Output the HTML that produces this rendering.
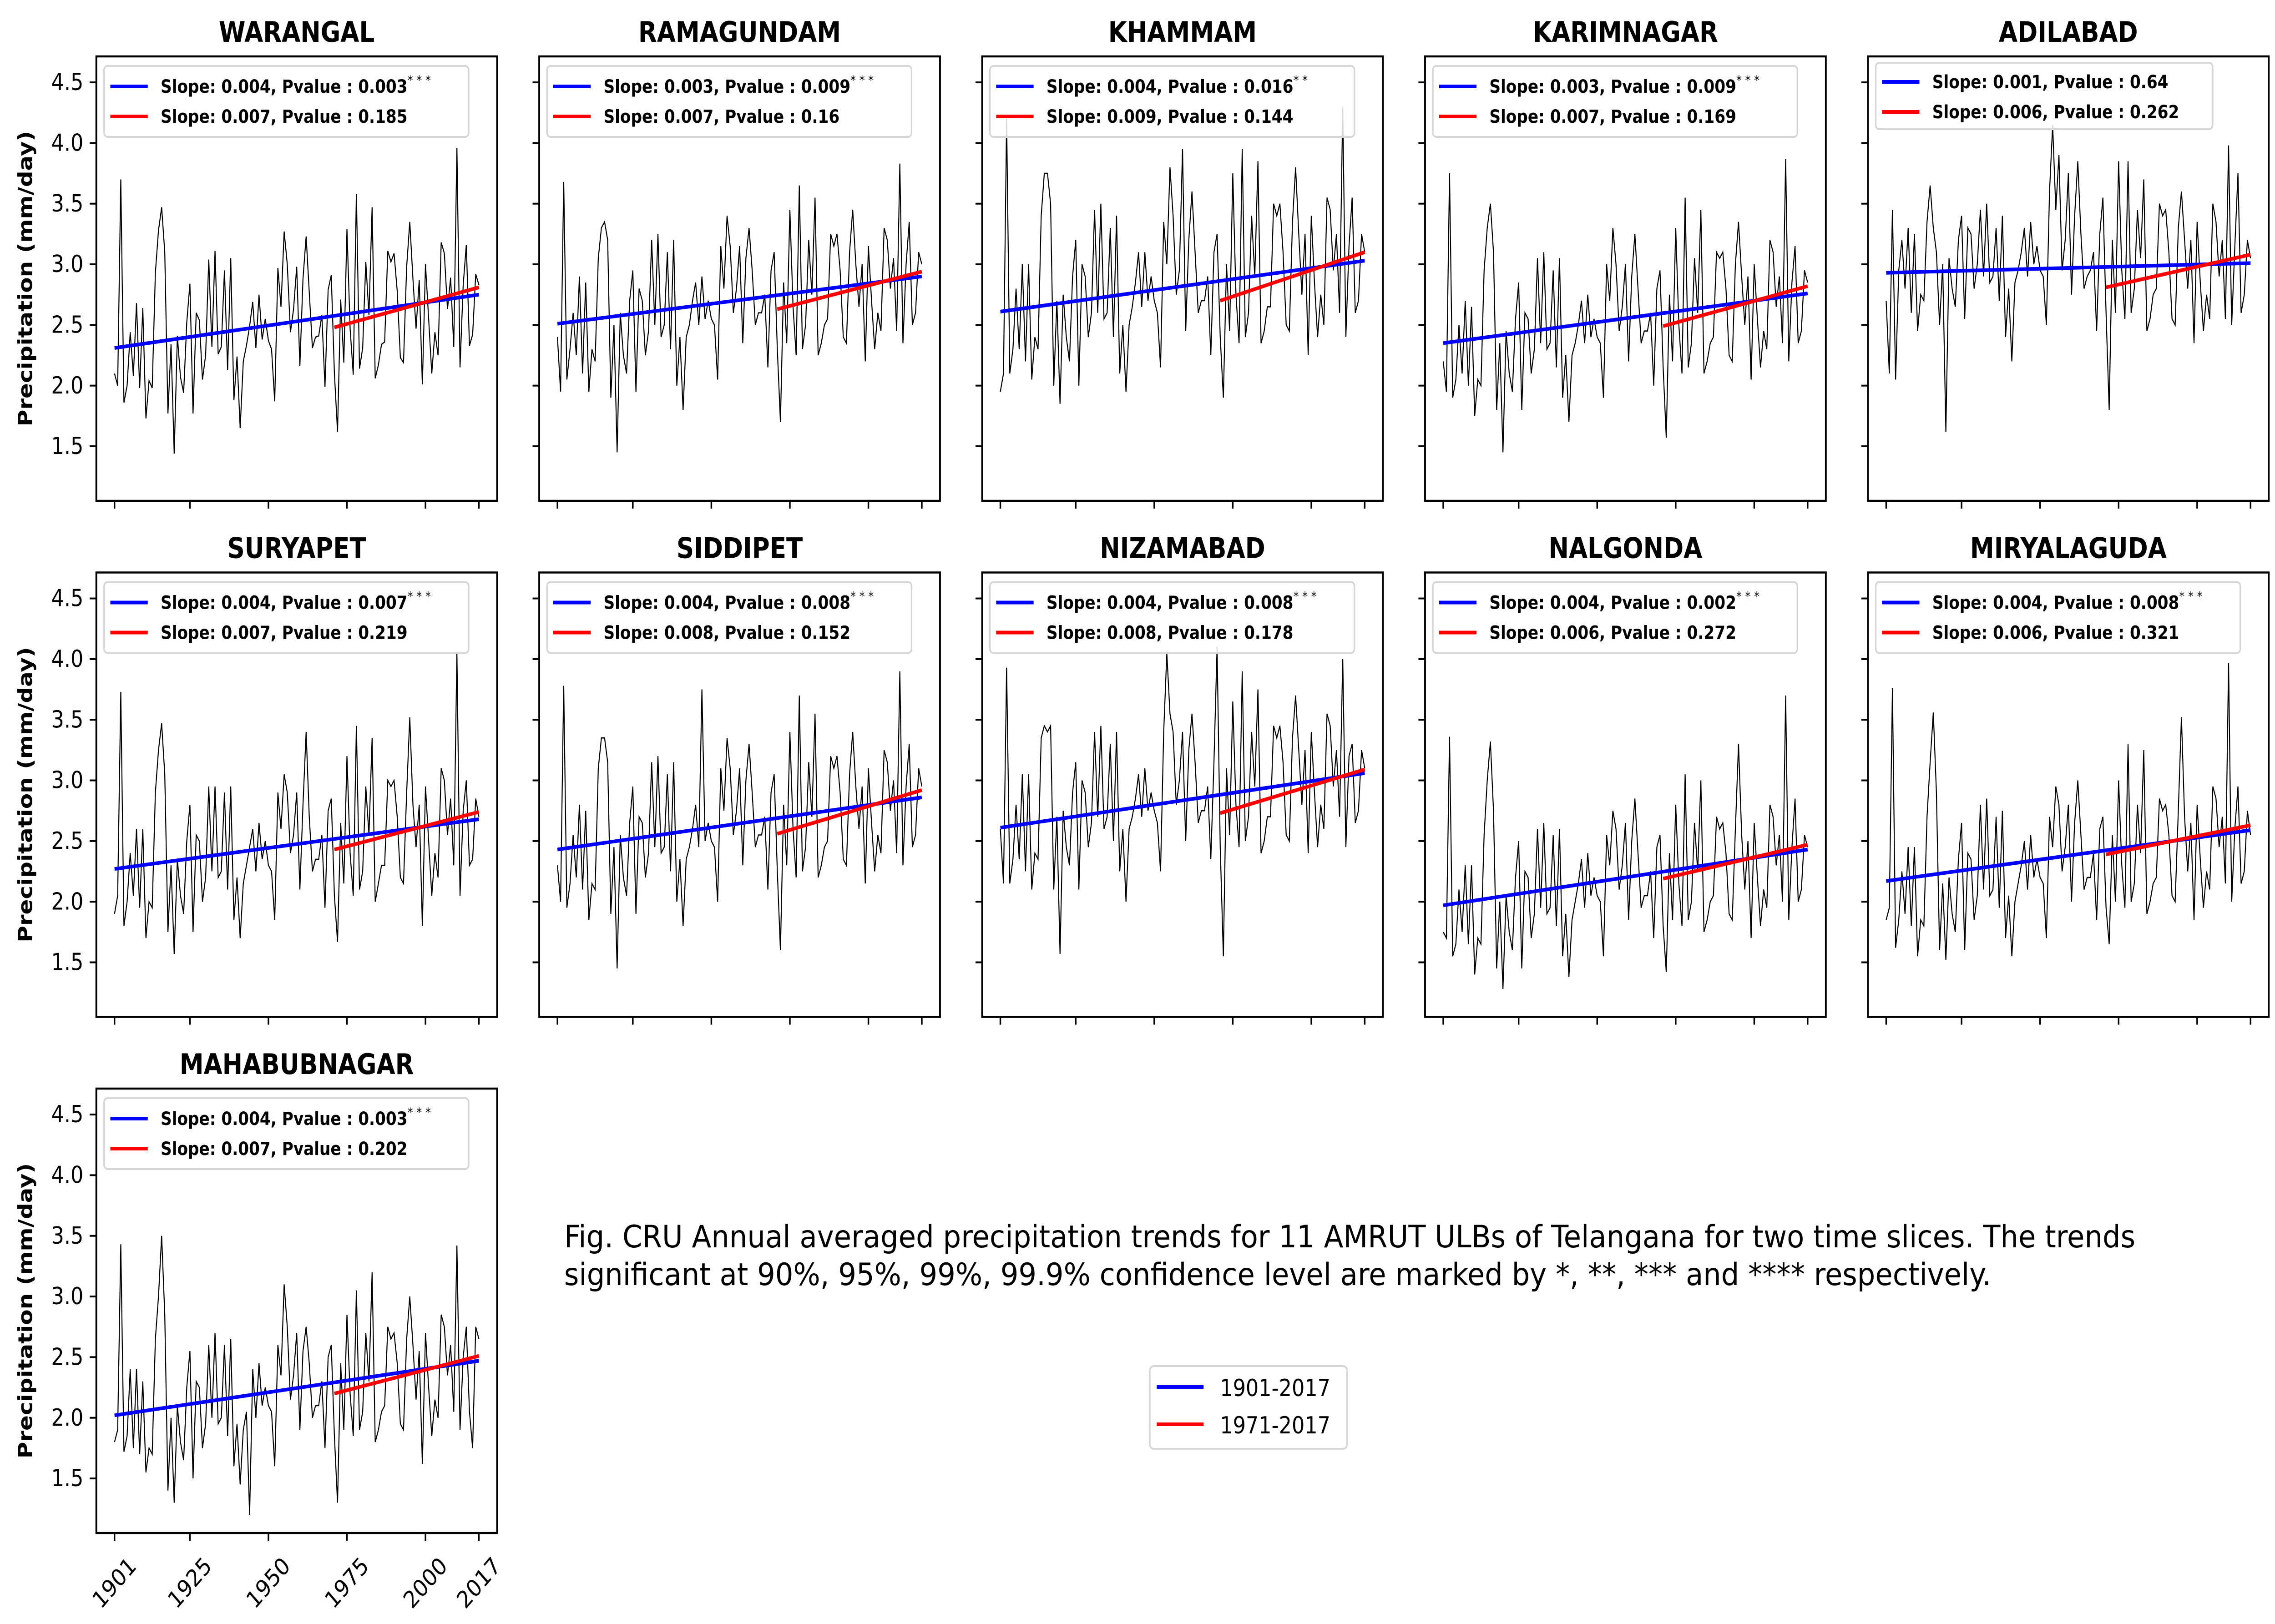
<!DOCTYPE html>
<html><head><meta charset="utf-8">
<style>
html,body{margin:0;padding:0;background:#fff;width:100vw;height:100vh;overflow:hidden;}
svg{display:block;width:100vw;height:100vh;}
text{font-family:"DejaVu Sans","Liberation Sans",sans-serif;}
</style></head>
<body>
<svg id="fig" xmlns="http://www.w3.org/2000/svg" viewBox="0 0 5835 3570" preserveAspectRatio="none">
<rect x="0" y="0" width="5835" height="3570" fill="#fff"/>
<g id="panels"></g>
<text x="1447" y="2742" font-size="68" textLength="4030" lengthAdjust="spacingAndGlyphs">Fig. CRU Annual averaged precipitation trends for 11 AMRUT ULBs of Telangana for two time slices. The trends</text>
<text x="1447" y="2825" font-size="68" textLength="3660" lengthAdjust="spacingAndGlyphs">significant at 90%, 95%, 99%, 99.9% confidence level are marked by *, **, *** and **** respectively.</text>
<g>
<rect x="2949" y="3003" width="506" height="182" rx="10" fill="#fff" stroke="#d6d6d6" stroke-width="4"/>
<line x1="2967" y1="3049" x2="3087" y2="3049" stroke="#0000ff" stroke-width="8"/>
<text x="3129" y="3069" font-size="52">1901-2017</text>
<line x1="2967" y1="3131" x2="3087" y2="3131" stroke="#ff0000" stroke-width="8"/>
<text x="3129" y="3151" font-size="52">1971-2017</text>
</g>
</svg>
<script>
const names = ["WARANGAL","RAMAGUNDAM","KHAMMAM","KARIMNAGAR","ADILABAD","SURYAPET","SIDDIPET","NIZAMABAD","NALGONDA","MIRYALAGUDA","MAHABUBNAGAR"];
const xTicks = [1901,1925,1950,1975,2000,2017];
const yTicks = [1.5,2.0,2.5,3.0,3.5,4.0,4.5];
const yTickLabels = ["1.5","2.0","2.5","3.0","3.5","4.0","4.5"];
const blueStart = [2.31,2.51,2.61,2.35,2.93,2.27,2.43,2.61,1.97,2.17,2.02];
const blueEnd   = [2.75,2.90,3.03,2.76,3.01,2.68,2.86,3.06,2.43,2.59,2.47];
const redStart  = [2.48,2.63,2.70,2.49,2.81,2.43,2.56,2.73,2.19,2.39,2.20];
const redEnd    = [2.81,2.94,3.10,2.82,3.08,2.74,2.92,3.09,2.47,2.63,2.51];
const blueText = ["Slope: 0.004, Pvalue : 0.003","Slope: 0.003, Pvalue : 0.009","Slope: 0.004, Pvalue : 0.016","Slope: 0.003, Pvalue : 0.009","Slope: 0.001, Pvalue : 0.64","Slope: 0.004, Pvalue : 0.007","Slope: 0.004, Pvalue : 0.008","Slope: 0.004, Pvalue : 0.008","Slope: 0.004, Pvalue : 0.002","Slope: 0.004, Pvalue : 0.008","Slope: 0.004, Pvalue : 0.003"];
const blueStars = ["* * *","* * *","* *","* * *","","* * *","* * *","* * *","* * *","* * *","* * *"];
const redText = ["Slope: 0.007, Pvalue : 0.185","Slope: 0.007, Pvalue : 0.16","Slope: 0.009, Pvalue : 0.144","Slope: 0.007, Pvalue : 0.169","Slope: 0.006, Pvalue : 0.262","Slope: 0.007, Pvalue : 0.219","Slope: 0.008, Pvalue : 0.152","Slope: 0.008, Pvalue : 0.178","Slope: 0.006, Pvalue : 0.272","Slope: 0.006, Pvalue : 0.321","Slope: 0.007, Pvalue : 0.202"];

const warangal = [2.10,2.00,3.70,1.86,2.00,2.44,2.08,2.68,1.98,2.64,1.73,2.04,1.98,2.93,3.28,3.47,3.10,1.77,2.34,1.44,2.41,2.07,1.94,2.52,2.84,1.77,2.60,2.54,2.05,2.25,3.04,2.32,3.11,2.26,2.32,2.95,2.13,3.05,1.88,2.24,1.65,2.20,2.33,2.49,2.69,2.31,2.75,2.38,2.55,2.37,2.30,1.87,2.97,2.65,3.27,3.00,2.44,2.63,2.98,2.16,2.88,3.23,2.77,2.31,2.40,2.41,2.58,1.99,2.79,2.91,2.10,1.62,2.71,2.19,3.29,2.47,2.09,3.58,2.14,2.31,3.02,2.58,3.47,2.06,2.17,2.34,2.36,3.11,3.02,3.09,2.78,2.23,2.19,2.98,3.35,2.88,2.47,2.87,2.01,3.00,2.55,2.10,2.44,2.25,3.18,3.09,2.63,2.89,2.32,3.96,2.15,2.83,3.16,2.33,2.42,2.92,2.83];
const ramagundam = [2.40,1.95,3.68,2.05,2.30,2.60,2.25,2.90,2.10,2.85,1.95,2.30,2.20,3.05,3.30,3.35,3.20,1.90,2.50,1.45,2.60,2.25,2.10,2.70,2.95,1.95,2.80,2.70,2.25,2.45,3.20,2.50,3.25,2.40,2.50,3.10,2.30,3.20,2.00,2.40,1.80,2.40,2.50,2.70,2.85,2.50,2.90,2.55,2.70,2.55,2.50,2.05,3.15,2.80,3.40,3.15,2.60,2.80,3.15,2.35,3.05,3.30,2.95,2.50,2.60,2.60,2.75,2.15,2.95,3.10,2.30,1.70,2.85,2.35,3.45,2.65,2.25,3.65,2.30,2.50,3.20,2.75,3.55,2.25,2.35,2.50,2.55,3.25,3.15,3.25,2.95,2.40,2.35,3.10,3.45,3.00,2.65,3.00,2.20,3.15,2.70,2.30,2.60,2.45,3.30,3.20,2.80,3.05,2.45,3.83,2.35,3.00,3.35,2.50,2.60,3.10,3.00];
const khammam = [1.95,2.10,4.20,2.10,2.30,2.80,2.30,3.00,2.20,3.00,2.05,2.40,2.30,3.40,3.75,3.75,3.50,2.00,2.70,1.85,2.75,2.40,2.20,2.90,3.20,2.00,3.00,2.90,2.40,2.60,3.45,2.60,3.50,2.55,2.60,3.30,2.40,3.40,2.10,2.50,1.95,2.50,2.65,2.85,3.10,2.65,3.10,2.70,2.90,2.70,2.60,2.15,3.35,3.00,3.80,3.40,2.75,2.95,3.95,2.45,3.20,3.60,3.10,2.60,2.70,2.70,2.90,2.25,3.10,3.25,2.40,1.90,3.00,2.45,3.75,2.75,2.35,3.95,2.40,2.60,3.40,2.90,3.85,2.35,2.45,2.65,2.65,3.50,3.40,3.50,3.10,2.50,2.45,3.35,3.80,3.25,2.75,3.25,2.25,3.40,2.85,2.40,2.75,2.50,3.55,3.45,2.95,3.25,2.60,4.30,2.40,3.15,3.55,2.60,2.70,3.25,3.10];
const karimnagar = [2.20,1.95,3.75,1.90,2.05,2.50,2.10,2.70,2.00,2.65,1.75,2.05,2.00,2.95,3.30,3.50,3.10,1.80,2.35,1.45,2.45,2.10,1.95,2.55,2.85,1.80,2.60,2.55,2.10,2.30,3.05,2.35,3.10,2.30,2.35,2.95,2.15,3.05,1.90,2.25,1.70,2.25,2.35,2.50,2.70,2.35,2.75,2.40,2.55,2.40,2.35,1.90,3.00,2.70,3.30,3.00,2.45,2.65,3.00,2.20,2.90,3.25,2.80,2.35,2.45,2.45,2.60,2.00,2.80,2.95,2.15,1.57,2.75,2.20,3.30,2.50,2.10,3.55,2.15,2.35,3.05,2.60,3.45,2.10,2.20,2.35,2.40,3.10,3.05,3.10,2.80,2.25,2.20,3.00,3.35,2.90,2.50,2.90,2.05,3.00,2.55,2.15,2.45,2.30,3.20,3.10,2.65,2.90,2.35,3.87,2.20,2.85,3.15,2.35,2.45,2.95,2.85];
const adilabad = [2.70,2.10,3.45,2.05,2.95,3.20,2.80,3.30,2.60,3.25,2.45,2.75,2.70,3.35,3.65,3.30,3.10,2.50,3.00,1.62,3.05,2.80,2.65,3.20,3.40,2.55,3.30,3.25,2.80,3.00,3.45,2.90,3.50,2.85,2.90,3.30,2.70,3.40,2.40,2.80,2.20,2.85,2.95,3.10,3.30,2.90,3.35,3.00,3.15,2.95,2.90,2.50,3.60,4.15,3.45,3.90,2.95,3.20,3.75,2.75,3.40,3.85,3.25,2.80,2.90,2.95,3.10,2.45,3.25,3.55,2.60,1.80,3.20,2.60,3.85,2.95,2.55,3.85,2.60,2.80,3.45,3.05,3.70,2.45,2.55,2.75,2.80,3.50,3.40,3.45,3.10,2.55,2.50,3.30,3.60,3.20,2.80,3.20,2.35,3.35,2.85,2.45,2.75,2.55,3.50,3.35,2.90,3.20,2.55,3.98,2.50,3.15,3.75,2.60,2.75,3.20,3.05];
const suryapet = [1.90,2.05,3.73,1.80,2.00,2.40,2.05,2.60,1.95,2.60,1.70,2.00,1.95,2.90,3.25,3.47,3.05,1.75,2.30,1.57,2.35,2.05,1.90,2.50,2.80,1.75,2.55,2.50,2.00,2.20,2.95,2.25,2.95,2.20,2.25,2.90,2.10,2.95,1.85,2.20,1.70,2.15,2.30,2.45,2.60,2.25,2.65,2.35,2.50,2.30,2.25,1.85,2.90,2.60,3.05,2.90,2.40,2.55,2.90,2.10,2.80,3.40,2.70,2.25,2.35,2.35,2.55,1.95,2.75,2.85,2.05,1.67,2.65,2.15,3.20,2.40,2.05,3.45,2.10,2.25,2.95,2.55,3.35,2.00,2.15,2.30,2.30,3.00,2.95,3.00,2.70,2.20,2.15,2.90,3.52,2.80,2.45,2.80,1.80,2.95,2.50,2.05,2.40,2.20,3.10,3.00,2.55,2.85,2.30,4.05,2.05,2.75,3.00,2.30,2.35,2.85,2.70];
const siddipet = [2.30,2.00,3.78,1.95,2.15,2.55,2.20,2.80,2.10,2.75,1.85,2.15,2.10,3.10,3.35,3.35,3.15,1.90,2.45,1.45,2.55,2.20,2.05,2.65,2.95,1.90,2.70,2.65,2.20,2.40,3.15,2.45,3.20,2.40,2.45,3.05,2.25,3.15,2.00,2.35,1.80,2.35,2.45,2.60,2.80,2.45,3.75,2.50,2.65,2.50,2.45,2.00,3.10,2.75,3.35,3.10,2.55,2.75,3.10,2.30,3.00,3.30,2.90,2.45,2.55,2.55,2.70,2.10,2.90,3.05,2.25,1.60,2.80,2.30,3.40,2.60,2.20,3.70,2.25,2.45,3.15,2.70,3.55,2.20,2.30,2.45,2.50,3.20,3.10,3.20,2.90,2.35,2.30,3.05,3.40,2.95,2.60,2.95,2.15,3.10,2.65,2.25,2.55,2.40,3.25,3.15,2.75,3.00,2.40,3.90,2.30,2.95,3.30,2.45,2.55,3.10,2.95];
const nizamabad = [2.60,2.15,3.93,2.15,2.35,2.80,2.35,3.05,2.25,3.05,2.10,2.40,2.35,3.35,3.45,3.40,3.45,2.10,2.70,1.57,2.75,2.45,2.30,2.90,3.15,2.10,3.00,2.90,2.45,2.65,3.40,2.70,3.45,2.60,2.70,3.30,2.50,3.40,2.25,2.60,2.00,2.60,2.70,2.85,3.05,2.70,3.10,2.75,2.90,2.75,2.65,2.25,3.40,4.05,3.55,3.40,2.80,3.00,3.40,2.50,3.25,3.55,3.15,2.65,2.75,2.75,2.95,2.35,3.15,4.10,2.45,1.55,3.10,2.55,3.65,2.80,2.45,3.90,2.50,2.70,3.40,2.95,3.75,2.40,2.50,2.70,2.70,3.45,3.35,3.45,3.15,2.55,2.50,3.35,3.70,3.25,2.80,3.25,2.40,3.40,2.90,2.45,2.80,2.60,3.55,3.45,2.95,3.25,2.70,4.00,2.45,3.20,3.30,2.65,2.75,3.25,3.10];
const nalgonda = [1.75,1.70,3.36,1.55,1.65,2.10,1.75,2.30,1.65,2.30,1.40,1.70,1.65,2.55,3.00,3.32,2.75,1.45,2.00,1.28,2.05,1.75,1.60,2.20,2.50,1.45,2.25,2.20,1.70,1.90,2.60,1.95,2.65,1.90,1.95,2.55,1.80,2.60,1.55,1.90,1.38,1.85,2.00,2.15,2.35,1.95,2.40,2.05,2.20,2.05,2.00,1.55,2.55,2.30,2.75,2.60,2.10,2.30,2.65,1.85,2.50,2.85,2.40,1.95,2.05,2.05,2.25,1.70,2.45,2.55,1.80,1.42,2.40,1.85,2.80,2.15,1.80,3.05,1.85,2.00,2.65,2.25,3.00,1.75,1.85,2.00,2.05,2.70,2.60,2.65,2.40,1.90,1.85,2.60,3.30,2.55,2.10,2.50,1.70,2.65,2.20,1.80,2.10,1.95,2.80,2.70,2.30,2.55,2.00,3.70,1.85,2.45,2.85,2.00,2.10,2.55,2.45];
const miryalaguda = [1.85,1.95,3.76,1.62,1.85,2.25,1.90,2.45,1.80,2.45,1.55,1.85,1.80,2.70,3.15,3.56,2.90,1.60,2.15,1.52,2.20,1.90,1.75,2.35,2.65,1.60,2.40,2.35,1.85,2.05,2.80,2.10,2.85,2.05,2.10,2.70,1.95,2.75,1.70,2.05,1.55,2.00,2.15,2.30,2.50,2.10,2.55,2.20,2.35,2.20,2.15,1.70,2.70,2.45,2.95,2.80,2.25,2.45,2.80,2.00,2.65,3.00,2.55,2.10,2.20,2.20,2.40,1.85,2.60,2.70,1.95,1.65,2.55,2.00,3.00,2.30,1.95,3.30,2.00,2.15,2.80,2.40,3.25,1.90,2.00,2.15,2.20,2.85,2.75,2.80,2.55,2.05,2.00,2.75,3.52,2.70,2.25,2.65,1.85,2.80,2.35,1.95,2.25,2.10,2.95,2.85,2.45,2.70,2.15,3.97,2.00,2.60,2.95,2.15,2.25,2.75,2.55];
const mahabubnagar = [1.80,1.90,3.43,1.72,1.85,2.40,1.75,2.40,1.70,2.30,1.55,1.75,1.70,2.65,3.00,3.50,2.85,1.40,2.00,1.30,2.10,1.80,1.65,2.25,2.55,1.50,2.30,2.25,1.75,1.95,2.60,2.00,2.70,1.95,2.00,2.60,1.85,2.65,1.60,1.95,1.45,1.90,2.05,1.20,2.40,2.00,2.45,2.10,2.25,2.10,2.05,1.60,2.60,2.35,3.10,2.75,2.15,2.35,2.70,1.90,2.55,2.75,2.45,2.00,2.10,2.10,2.30,1.75,2.50,2.60,1.85,1.30,2.45,1.90,2.85,2.20,1.85,3.05,1.90,2.05,2.70,2.30,3.20,1.80,1.90,2.05,2.10,2.75,2.65,2.70,2.45,1.95,1.90,2.65,3.00,2.60,2.15,2.55,1.62,2.70,2.25,1.85,2.15,2.00,2.85,2.75,2.35,2.60,2.05,3.42,1.90,2.50,2.75,2.05,1.75,2.75,2.65];
const series = [warangal,ramagundam,khammam,karimnagar,adilabad,suryapet,siddipet,nizamabad,nalgonda,miryalaguda,mahabubnagar];
const firstYear = 1901, lastYear = 2017, splitYear = 1971;

const NS = "http://www.w3.org/2000/svg";
const W = 1028, H = 977, X0 = 247, DX = 1136, Y0 = 124, DY = 1134.5;
const XMIN = 1895.2, XMAX = 2022.8, YMIN = 1.05, YMAX = 4.714;
const root = document.getElementById('panels');
function mk(tag, attrs, parent){ const e = document.createElementNS(NS, tag); for (const k in attrs) e.setAttribute(k, attrs[k]); parent.appendChild(e); return e; }

series.forEach((vals, i) => {
  const col = i % 5, row = Math.floor(i / 5);
  const L = X0 + col * DX, T = Y0 + row * DY;
  const sx = yr => L + (yr - XMIN) / (XMAX - XMIN) * W;
  const sy = v => T + (YMAX - v) / (YMAX - YMIN) * H;
  const g = mk('g', {}, root);
  
  

  const title = mk('text', {x: L + W/2, y: T - 32, 'font-size': 62, 'font-weight': 'bold', 'text-anchor': 'middle'}, g);
  title.textContent = names[i];
  
  

  xTicks.forEach(t => {
    const tk = mk('line', {x1: sx(t), x2: sx(t), y1: T + H, y2: T + H + 17, stroke: '#000', 'stroke-width': 4}, g);
    
    
    if (row === 2) {
      const cx = sx(t), cy = T + H + 110;
      const lb = mk('text', {x: cx, y: cy, 'font-size': 52, 'text-anchor': 'middle', 'dominant-baseline': 'central', transform: 'rotate(-45 ' + cx + ' ' + cy + ')'}, g);
      lb.textContent = String(t);
      
      
    }
  });
  yTicks.forEach((t, k) => {
    const tk = mk('line', {x1: L - 17, x2: L, y1: sy(t), y2: sy(t), stroke: '#000', 'stroke-width': 4}, g);
    
    
    if (col === 0) {
      const lb = mk('text', {x: L - 33, y: sy(t), 'font-size': 52, 'text-anchor': 'end', 'dominant-baseline': 'central'}, g);
      lb.textContent = yTickLabels[k];
      
      
    }
  });
  if (col === 0) {
    const cx = 65, cy = T + H/2;
    const yl = mk('text', {x: cx, y: cy, 'font-size': 50, 'font-weight': 'bold', 'text-anchor': 'middle', 'dominant-baseline': 'central', transform: 'rotate(-90 ' + cx + ' ' + cy + ')'}, g);
    yl.textContent = 'Precipitation (mm/day)';
    
    
  }

  const clipId = 'clip' + i;
  const cp = mk('clipPath', {id: clipId}, g);
  mk('rect', {x: L, y: T, width: W, height: H}, cp);
  let d = '';
  vals.forEach((v, k) => { d += (k ? 'L' : 'M') + sx(firstYear + k).toFixed(1) + ' ' + sy(v).toFixed(1); });
  const pl = mk('path', {d: d, fill: 'none', stroke: '#000', 'stroke-width': 2.6, 'clip-path': 'url(#' + clipId + ')'}, g);
  
  

  const bl = mk('line', {x1: sx(firstYear), y1: sy(blueStart[i]), x2: sx(lastYear), y2: sy(blueEnd[i]), stroke: '#0000ff', 'stroke-width': 8}, g);
  
  
  const rl = mk('line', {x1: sx(splitYear), y1: sy(redStart[i]), x2: sx(lastYear), y2: sy(redEnd[i]), stroke: '#ff0000', 'stroke-width': 8}, g);
  
  

  const fr = mk('rect', {x: L, y: T, width: W, height: H, fill: 'none', stroke: '#000', 'stroke-width': 4.5}, g);
  
  

  const hasStar = blueStars[i] !== '';
  const lg = mk('g', {}, g);
  
  
  const bw = hasStar ? 935 : 864, bh = hasStar ? 156 : 146;
  mk('rect', {x: L + 20, y: T + (hasStar ? 21 : 14), width: bw, height: bh, rx: 9, fill: '#fff', 'fill-opacity': 0.85, stroke: '#d6d6d6', 'stroke-width': 4}, lg);
  const r1 = hasStar ? 66 : 56, r2 = hasStar ? 132 : 122;
  mk('line', {x1: L + 36, x2: L + 132, y1: T + r1, y2: T + r1, stroke: '#0000ff', 'stroke-width': 8}, lg);
  mk('line', {x1: L + 36, x2: L + 132, y1: T + r2, y2: T + r2, stroke: '#ff0000', 'stroke-width': 8}, lg);
  const t1 = mk('text', {x: L + 165, y: T + r1 + 14, 'font-size': 40, 'font-weight': 'bold'}, lg);
  t1.textContent = blueText[i];
  
  
  if (hasStar) {
    const st = mk('tspan', {'font-size': 28, 'font-weight': 'normal', dy: -18}, t1);
    st.textContent = blueStars[i];
  }
  const t2 = mk('text', {x: L + 165, y: T + r2 + 14, 'font-size': 40, 'font-weight': 'bold'}, lg);
  t2.textContent = redText[i];
  
  
});
</script>
</body></html>
